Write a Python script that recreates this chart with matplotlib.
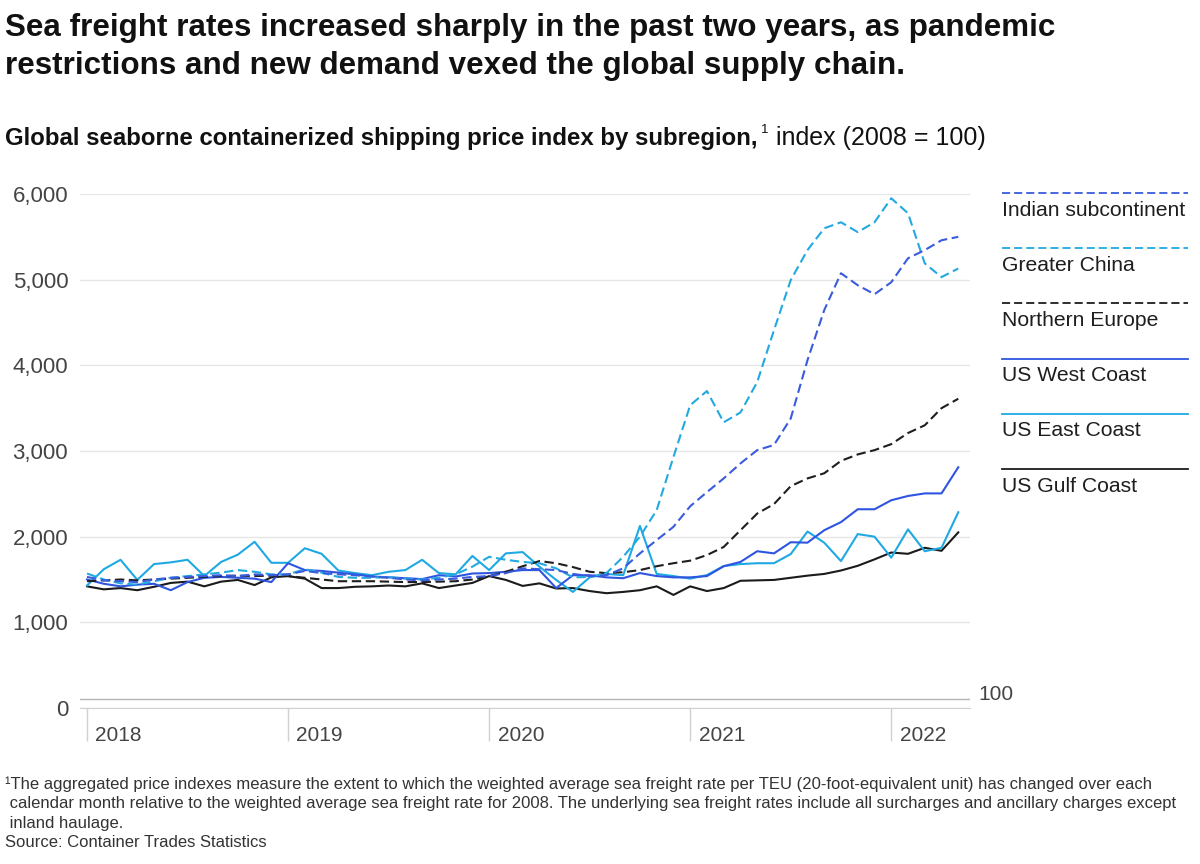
import matplotlib
matplotlib.use("Agg")
import matplotlib.pyplot as plt
from matplotlib.lines import Line2D
import matplotlib.transforms as mtransforms

plt.rcParams['font.family'] = ['Liberation Sans', 'DejaVu Sans']

# Monthly index values, Jan 2018 - May 2022 (2008 = 100)
years = ["2018", "2019", "2020", "2021", "2022"]
year_pos = [0, 12, 24, 36, 48]

indian_subcontinent = [
    1530, 1490, 1480, 1470, 1500, 1520, 1530, 1540, 1550, 1540, 1560, 1550,
    1560, 1600, 1575, 1560, 1550, 1535, 1520, 1500, 1490, 1500, 1510, 1530,
    1540, 1575, 1630, 1620, 1610, 1565, 1540, 1550, 1630, 1805, 1960, 2115,
    2355, 2520, 2680, 2855, 3010, 3070, 3380, 4060, 4645, 5075, 4935, 4830,
    4970, 5250, 5345, 5460, 5500]
greater_china = [
    1570, 1500, 1455, 1440, 1480, 1520, 1540, 1560, 1580, 1610, 1590, 1560,
    1560, 1620, 1580, 1530, 1520, 1520, 1530, 1510, 1500, 1520, 1560, 1650,
    1765, 1730, 1705, 1690, 1630, 1525, 1530, 1575, 1765, 2000, 2310, 2930,
    3535, 3700, 3335, 3450, 3805, 4410, 4995, 5345, 5600, 5670, 5555, 5670,
    5950, 5775, 5190, 5030, 5130]
northern_europe = [
    1480, 1490, 1500, 1490, 1500, 1510, 1520, 1530, 1540, 1545, 1540, 1545,
    1540, 1520, 1500, 1480, 1480, 1480, 1475, 1470, 1470, 1475, 1480, 1500,
    1540, 1590, 1655, 1715, 1690, 1645, 1590, 1575, 1585, 1610, 1655, 1690,
    1720, 1785, 1880, 2075, 2270, 2380, 2590, 2680, 2740, 2885, 2960, 3010,
    3080, 3210, 3300, 3500, 3610]
us_west_coast = [
    1500, 1450, 1420, 1440, 1450, 1375, 1470, 1520, 1530, 1520, 1510, 1470,
    1690, 1610, 1600, 1580, 1560, 1535, 1525, 1515, 1505, 1550, 1535, 1570,
    1575, 1590, 1610, 1610, 1400, 1550, 1550, 1525, 1515, 1575, 1540, 1525,
    1525, 1540, 1655, 1705, 1830, 1805, 1935, 1930, 2075, 2170, 2320, 2320,
    2425, 2475, 2505, 2505, 2810]
us_east_coast = [
    1430, 1620, 1730, 1495, 1680, 1700, 1730, 1540, 1705, 1790, 1940, 1695,
    1695, 1865, 1800, 1605, 1575, 1550, 1590, 1610, 1730, 1575, 1560, 1775,
    1610, 1805, 1820, 1650, 1495, 1355, 1525, 1565, 1550, 2125, 1565, 1540,
    1510, 1552, 1657, 1680, 1690, 1690, 1797, 2060, 1930, 1715, 2030, 2000,
    1755, 2085, 1830, 1870, 2285]
us_gulf_coast = [
    1420, 1385, 1400, 1375, 1415, 1460, 1475, 1420, 1475, 1495, 1435, 1525,
    1540, 1510, 1400, 1400, 1415, 1420, 1430, 1420, 1455, 1400, 1430, 1460,
    1540, 1495, 1425, 1455, 1395, 1400, 1365, 1340, 1355, 1375, 1420, 1320,
    1420, 1365, 1400, 1485, 1490, 1495, 1520, 1545, 1565, 1605, 1660, 1735,
    1815, 1800, 1870, 1835, 2050]

series = [
    ("Indian subcontinent", indian_subcontinent, "#3a5bdc", True),
    ("Greater China", greater_china, "#22a9e0", True),
    ("Northern Europe", northern_europe, "#1e1e1e", True),
    ("US West Coast", us_west_coast, "#2f55e0", False),
    ("US East Coast", us_east_coast, "#1fa9e3", False),
    ("US Gulf Coast", us_gulf_coast, "#1b1b1b", False),
]

fig = plt.figure(figsize=(12, 8.64), dpi=100)
ax = fig.add_axes([80 / 1200, 1 - 708 / 864, 890 / 1200, 514 / 864])

x = list(range(len(indian_subcontinent)))
# solid lines first, dashed on top
for name, vals, col, dashed in series[::-1]:
    if dashed:
        ax.plot(x, vals, color=col, lw=1.5, dashes=(4.5, 2.2), zorder=3)
    else:
        ax.plot(x, vals, color=col, lw=1.5, zorder=2)

ax.set_xlim(-0.42, 52.7)
ax.set_ylim(0, 6000)
ax.set_yticks([0, 1000, 2000, 3000, 4000, 5000, 6000])
ax.set_yticklabels(["0", "1,000", "2,000", "3,000", "4,000", "5,000", "6,000"])
ax.grid(axis="y", color="#e6e6e6", lw=1)
ax.set_axisbelow(True)
for s in ["top", "right", "left"]:
    ax.spines[s].set_visible(False)
ax.spines["bottom"].set_color("#d0d0d0")
ax.tick_params(axis="y", length=0, pad=8.5, labelsize=16, labelcolor="#444444")

# year ticks hanging below the axis, labels right of each tick
ax.set_xticks(year_pos)
ax.set_xticklabels([])
ax.tick_params(axis="x", length=24, width=1, color="#d0d0d0", direction="out")
trans = mtransforms.blended_transform_factory(ax.transData, ax.transAxes)
for yr, p in zip(years, year_pos):
    ax.text(p + 0.5, -0.053, yr, transform=trans, fontsize=15, color="#444444",
            ha="left", va="center")

# 100 reference line
ax.axhline(100, color="#b5b5b5", lw=1, zorder=1)
fig.text(978 / 1200, 1 - 695 / 864, "100", fontsize=15, color="#444444",
         ha="left", va="center")

# legend on the right
for k, (name, vals, col, dashed) in enumerate(series):
    ly = 1 - (193 + 55.2 * k) / 864
    ln = Line2D([1002 / 1200, 1188 / 1200], [ly, ly], color=col, lw=1.3,
                transform=fig.transFigure)
    if dashed:
        ln.set_dashes((4.5, 2.2))
    fig.add_artist(ln)
    fig.text(1002 / 1200, ly - 17 / 864, name, fontsize=15.2, color="#1e1e1e",
             ha="left", va="center")

# titles
fig.text(5 / 1200, 1 - 13 / 864,
         "Sea freight rates increased sharply in the past two years, as pandemic\n"
         "restrictions and new demand vexed the global supply chain.",
         fontsize=22.6, fontweight="bold", color="#111111", ha="left", va="top",
         linespacing=1.33)
sub = fig.text(5 / 1200, 1 - 138 / 864,
               "Global seaborne containerized shipping price index by subregion,",
               fontsize=17.3, fontweight="bold", color="#111111", ha="left", va="center")
fig.canvas.draw()
x1 = sub.get_window_extent().x1 / 1200
fig.text(x1 + 3 / 1200, 1 - 130 / 864, "1", fontsize=9.5, color="#111111",
         ha="left", va="center")
fig.text(x1 + 18 / 1200, 1 - 138 / 864, "index (2008 = 100)", fontsize=18,
         color="#111111", ha="left", va="center")

# footnote
fig.text(5 / 1200, 1 - 776 / 864,
         "\u00b9The aggregated price indexes measure the extent to which the weighted average sea freight rate per TEU (20-foot-equivalent unit) has changed over each\n"
         " calendar month relative to the weighted average sea freight rate for 2008. The underlying sea freight rates include all surcharges and ancillary charges except\n"
         " inland haulage.\n"
         "Source: Container Trades Statistics",
         fontsize=12, color="#333333", ha="left", va="top", linespacing=1.38)

fig.savefig("out.png", dpi=100)
